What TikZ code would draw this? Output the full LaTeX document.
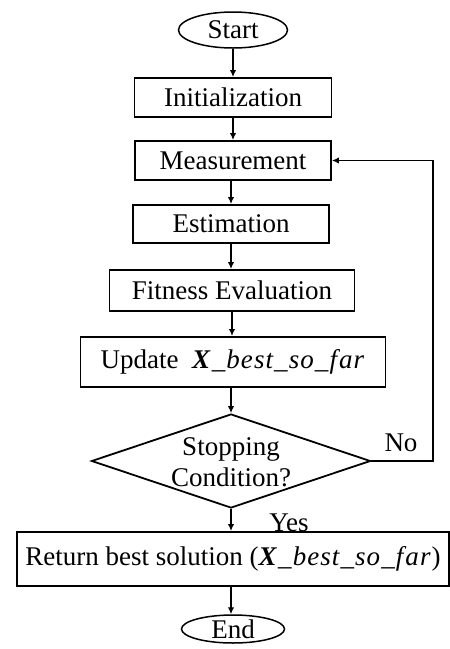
\documentclass[tikz,border=0pt]{standalone}
\usepackage{fontspec}
\setmainfont{Liberation Serif}
\usetikzlibrary{shapes.geometric,arrows.meta}
\tikzset{
  procbox/.style={draw,line width=1.9pt,rectangle,inner sep=0pt,
    font=\fontsize{27}{31}\selectfont},
  termnode/.style={draw,line width=1.5pt,ellipse,inner sep=0pt,
    font=\fontsize{27}{31}\selectfont},
  decnode/.style={draw,line width=1.8pt,diamond,inner sep=0pt},
  flowtext/.style={inner sep=0pt,align=center,font=\fontsize{27}{31}\selectfont},
  flow/.style={line width=1.7pt,-{Latex[length=7pt,width=6.5pt]}}
}
\newcommand{\xbest}{{\addfontfeature{LetterSpace=4}\textbf{\textit{X}}\textit{\_best\_so\_f\kern2pt ar}}}

\begin{document}
\begin{tikzpicture}[x=1pt,y=-1pt]
  \useasboundingbox (0,0) rectangle (450,649);
  % terminals and steps
  \node[termnode,minimum width=109,minimum height=36] (start) at (233,30) {Start};
  \node[procbox,minimum width=197,minimum height=39] (init) at (233,97.5) {Initialization};
  \node[procbox,minimum width=196,minimum height=39] (meas) at (233,160.5) {Measurement};
  \node[procbox,minimum width=196,minimum height=38] (est) at (231,224) {Estimation};
  \node[procbox,minimum width=245,minimum height=41] (fit) at (232,290.5) {Fitness Evaluation};
  \node[procbox,minimum width=305,minimum height=50] (upd) at (233,362) {Update \ \xbest};
  % decision
  \node[decnode,minimum width=279,minimum height=94] (stop) at (231,461) {};
  \node[flowtext] (stoptext) at (231,462) {Stopping\\Condition?};
  \node[procbox,minimum width=432,minimum height=54] (ret) at (233,559) {Return best solution (\xbest)};
  \node[termnode,minimum width=103,minimum height=28] (end) at (233,629) {End};
  % branch labels
  \node[flowtext] (nolab) at (401,443) {No};
  \node[flowtext] (yeslab) at (289,523) {Yes};
  \coordinate (loopr) at (433,461);
  % connectors
  \draw[flow] (start) -- (init);
  \draw[flow] (init) -- (meas);
  \draw[flow] (meas.south -| est.south) -- (est.south |- est.north);
  \draw[flow] (est.south) -- (est.south |- fit.north);
  \draw[flow] (fit.south) -- (fit.south |- upd.north);
  \draw[flow] (stop.north |- upd.south) -- (stop.north);
  \draw[flow] (stop.south) -- (stop.south |- ret.north);
  \draw[flow] (stop.south |- ret.south) -- (stop.south |- end.north);
  \draw[flow] (stop.east) -- (loopr) |- (meas.east);
\end{tikzpicture}
\end{document}
